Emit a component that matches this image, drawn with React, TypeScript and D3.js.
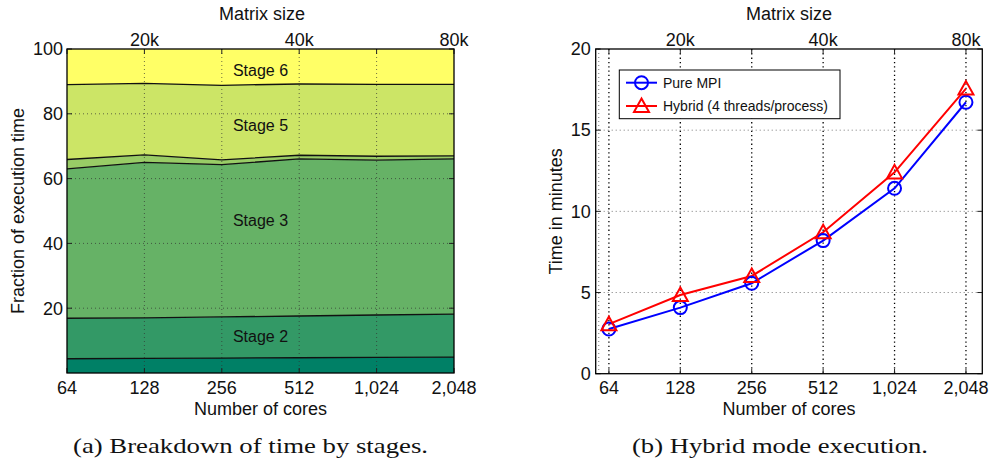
import React from "react";
import * as d3 from "d3";

// ---------- data ----------
const cores = [64, 128, 256, 512, 1024, 2048];
const coreLabels = ["64", "128", "256", "512", "1,024", "2,048"];
const matrixTicks = [128, 512, 2048];
const matrixLabels = ["20k", "40k", "80k"];

const stageKeys = ["s1", "s2", "s3", "s4", "s5", "s6"];
const stage1 = [4.4, 4.5, 4.6, 4.7, 4.8, 4.9];
const stage2 = [12.5, 12.5, 12.7, 12.9, 13.1, 13.3];
const stage3 = [46.1, 48.0, 47.0, 48.5, 47.8, 47.9];
const stage4 = [2.9, 2.3, 1.5, 1.1, 1.2, 0.9];
const stage5 = [23.1, 22.1, 23.0, 22.0, 22.2, 22.1];
const stage6 = [11.0, 10.6, 11.2, 10.8, 10.9, 10.9];
const stageColors = ["#008066", "#339966", "#66b266", "#99cc66", "#cce566", "#ffff66"];
const stageLabels = [
  { text: "Stage 6", v: 93.5 },
  { text: "Stage 5", v: 76.5 },
  { text: "Stage 3", v: 47.0 },
  { text: "Stage 2", v: 11.2 },
];
const yTicksL = [20, 40, 60, 80, 100];

const pureMPI = [2.75, 4.07, 5.57, 8.2, 11.42, 16.72];
const hybrid = [3.05, 4.85, 6.02, 8.71, 12.4, 17.56];
const yTicksR = [0, 5, 10, 15, 20];
const seriesNames = ["Pure MPI", "Hybrid (4 threads/process)"];

const FONT = "'Liberation Sans', Arial, Helvetica, sans-serif";
const SERIF = "'Liberation Serif', 'Times New Roman', serif";

export default function App() {
  // ---------- left chart ----------
  const L = { left: 67, right: 454, top: 49, bottom: 373 };
  const xL = d3.scaleLog().base(2).domain([64, 2048]).range([L.left, L.right]);
  const yL = d3.scaleLinear().domain([0, 100]).range([L.bottom, L.top]);

  const table = cores.map((c, i) => ({
    c,
    s1: stage1[i], s2: stage2[i], s3: stage3[i], s4: stage4[i], s5: stage5[i], s6: stage6[i],
  }));
  const stacked = d3.stack<any>().keys(stageKeys)(table);
  const area = d3
    .area<any>()
    .x((d) => xL(d.data.c))
    .y0((d) => yL(d[0]))
    .y1((d) => yL(d[1]));
  const topLine = d3
    .line<any>()
    .x((d) => xL(d.data.c))
    .y((d) => yL(d[1]));

  // ---------- right chart ----------
  const R = { left: 595.7, right: 982.3, top: 49, bottom: 373.7 };
  const xR = d3.scaleLog().base(2).domain([56.3, 2400]).range([R.left, R.right]);
  const yR = d3.scaleLinear().domain([0, 20]).range([R.bottom, R.top]);
  const lineR = d3
    .line<number>()
    .x((_, i) => xR(cores[i]))
    .y((d) => yR(d));

  const tri = (cx: number, cy: number, s = 7.5) =>
    `M${cx},${cy - s}L${cx + s},${cy + s * 0.8}L${cx - s},${cy + s * 0.8}Z`;

  const tickLen = 5;

  return (
    <svg
      width={991}
      height={465}
      style={{ position: "absolute", left: 0, top: 0, background: "#fff" }}
      fontFamily={FONT}
    >
      <rect width={991} height={465} fill="#fff" />
      {/* ================= LEFT ================= */}
      <g>
        {stacked.map((s, i) => (
          <path key={i} d={area(s) || ""} fill={stageColors[i]} stroke="none" />
        ))}
        {/* grid */}
        {[20, 40, 60, 80].map((v) => (
          <line key={"gh" + v} x1={L.left} x2={L.right} y1={yL(v)} y2={yL(v)}
            stroke="#333" strokeWidth={1} strokeDasharray="1,3" opacity={0.7} />
        ))}
        {cores.slice(1, -1).map((c) => (
          <line key={"gv" + c} x1={xL(c)} x2={xL(c)} y1={L.top} y2={L.bottom}
            stroke="#333" strokeWidth={1} strokeDasharray="1,3" opacity={0.7} />
        ))}
        {stacked.slice(0, 5).map((s, i) => (
          <path key={"b" + i} d={topLine(s) || ""} fill="none" stroke="#111" strokeWidth={1.3} />
        ))}
        {stageLabels.map((l) => (
          <text key={l.text} x={(L.left + L.right) / 2} y={yL(l.v)} dy="0.35em"
            textAnchor="middle" fontSize={16} fill="#111">{l.text}</text>
        ))}
        {/* ticks */}
        {cores.map((c) => (
          <g key={"tl" + c}>
            <line x1={xL(c)} x2={xL(c)} y1={L.bottom} y2={L.bottom - tickLen} stroke="#222" />
            <line x1={xL(c)} x2={xL(c)} y1={L.top} y2={L.top + tickLen} stroke="#222" />
          </g>
        ))}
        {yTicksL.map((v) => (
          <g key={"yl" + v}>
            <line x1={L.left} x2={L.left + tickLen} y1={yL(v)} y2={yL(v)} stroke="#222" />
            <line x1={L.right} x2={L.right - tickLen} y1={yL(v)} y2={yL(v)} stroke="#222" />
            <text x={L.left - 4} y={yL(v)} dy="0.35em" textAnchor="end" fontSize={18} fill="#111">{v}</text>
          </g>
        ))}
        <rect x={L.left} y={L.top} width={L.right - L.left} height={L.bottom - L.top}
          fill="none" stroke="#000" strokeWidth={1.3} />
        {cores.map((c, i) => (
          <text key={"xl" + c} x={xL(c)} y={394} textAnchor="middle" fontSize={18} fill="#111">{coreLabels[i]}</text>
        ))}
        {matrixTicks.map((c, i) => (
          <text key={"ml" + c} x={xL(c)} y={46} textAnchor="middle" fontSize={18} fill="#111">{matrixLabels[i]}</text>
        ))}
        <text x={262} y={20} textAnchor="middle" fontSize={18} fill="#111">Matrix size</text>
        <text x={(L.left + L.right) / 2} y={414.5} textAnchor="middle" fontSize={18} fill="#111">Number of cores</text>
        <text transform={`translate(24,${(L.top + L.bottom) / 2}) rotate(-90)`} textAnchor="middle"
          fontSize={18} fill="#111">Fraction of execution time</text>
        <text x={250.5} y={453} textAnchor="middle" fontSize={22} fontFamily={SERIF} fill="#111"
          textLength={355} lengthAdjust="spacingAndGlyphs">(a) Breakdown of time by stages.</text>
      </g>

      {/* ================= RIGHT ================= */}
      <g>
        {[5, 10, 15].map((v) => (
          <line key={"rgh" + v} x1={R.left} x2={R.right} y1={yR(v)} y2={yR(v)}
            stroke="#777" strokeWidth={1} strokeDasharray="1,3" />
        ))}
        <line x1={xR(58)} x2={xR(58)} y1={R.top} y2={R.bottom}
          stroke="#777" strokeWidth={1} strokeDasharray="1,3" />
        {cores.map((c) => (
          <line key={"rgv" + c} x1={xR(c)} x2={xR(c)} y1={R.top} y2={R.bottom}
            stroke="#000" strokeWidth={1.3} strokeDasharray="1.3,3" />
        ))}
        {cores.map((c) => (
          <g key={"rtl" + c}>
            <line x1={xR(c)} x2={xR(c)} y1={R.bottom} y2={R.bottom - tickLen} stroke="#222" />
            <line x1={xR(c)} x2={xR(c)} y1={R.top} y2={R.top + tickLen} stroke="#222" />
          </g>
        ))}
        {yTicksR.map((v) => (
          <g key={"ry" + v}>
            <line x1={R.left} x2={R.left + tickLen} y1={yR(v)} y2={yR(v)} stroke="#222" />
            <line x1={R.right} x2={R.right - tickLen} y1={yR(v)} y2={yR(v)} stroke="#222" />
            <text x={R.left - 5} y={yR(v)} dy="0.35em" textAnchor="end" fontSize={18} fill="#111">{v}</text>
          </g>
        ))}
        <rect x={R.left} y={R.top} width={R.right - R.left} height={R.bottom - R.top}
          fill="none" stroke="#000" strokeWidth={1.3} />
        {/* series */}
        <path d={lineR(pureMPI) || ""} fill="none" stroke="#0000ff" strokeWidth={2} />
        <path d={lineR(hybrid) || ""} fill="none" stroke="#ff0000" strokeWidth={2} />
        {pureMPI.map((v, i) => (
          <circle key={"pm" + i} cx={xR(cores[i])} cy={yR(v)} r={6.5} fill="none" stroke="#0000ff" strokeWidth={2} />
        ))}
        {hybrid.map((v, i) => (
          <path key={"hy" + i} d={tri(xR(cores[i]), yR(v))} fill="none" stroke="#ff0000" strokeWidth={2} />
        ))}
        {/* legend */}
        <rect x={619.3} y={70} width={220.7} height={48.7} fill="#fff" stroke="#000" strokeWidth={1} />
        <line x1={626} x2={657} y1={82.7} y2={82.7} stroke="#0000ff" strokeWidth={2} />
        <circle cx={641.5} cy={82.7} r={6.5} fill="none" stroke="#0000ff" strokeWidth={2} />
        <text x={663} y={82.7} dy="0.35em" fontSize={14} fill="#111">{seriesNames[0]}</text>
        <line x1={626} x2={657} y1={106} y2={106} stroke="#ff0000" strokeWidth={2} />
        <path d={tri(641.5, 106)} fill="none" stroke="#ff0000" strokeWidth={2} />
        <text x={663} y={106} dy="0.35em" fontSize={14} fill="#111">{seriesNames[1]}</text>

        {cores.map((c, i) => (
          <text key={"rxl" + c} x={xR(c)} y={394} textAnchor="middle" fontSize={18} fill="#111">{coreLabels[i]}</text>
        ))}
        {matrixTicks.map((c, i) => (
          <text key={"rml" + c} x={xR(c)} y={46} textAnchor="middle" fontSize={18} fill="#111">{matrixLabels[i]}</text>
        ))}
        <text x={(R.left + R.right) / 2} y={20} textAnchor="middle" fontSize={18} fill="#111">Matrix size</text>
        <text x={(R.left + R.right) / 2} y={414.5} textAnchor="middle" fontSize={18} fill="#111">Number of cores</text>
        <text transform={`translate(562,${(R.top + R.bottom) / 2}) rotate(-90)`} textAnchor="middle"
          fontSize={18} fill="#111">Time in minutes</text>
        <text x={780} y={453} textAnchor="middle" fontSize={22} fontFamily={SERIF} fill="#111"
          textLength={296} lengthAdjust="spacingAndGlyphs">(b) Hybrid mode execution.</text>
      </g>
    </svg>
  );
}
